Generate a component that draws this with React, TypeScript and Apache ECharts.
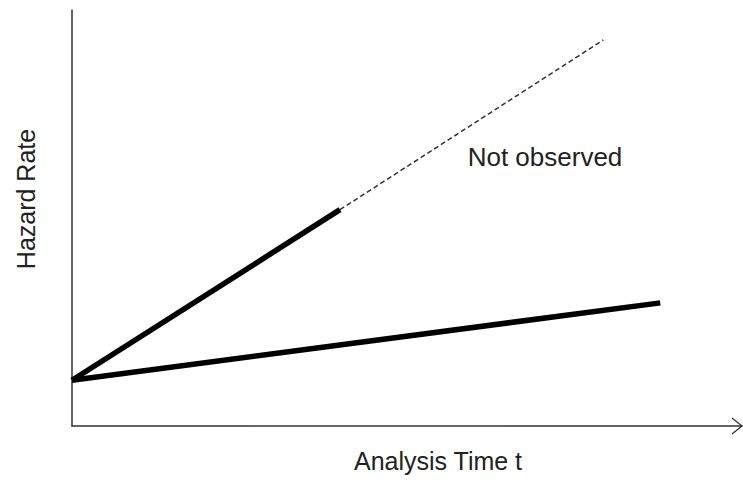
import React, { useEffect, useRef } from "react";
import * as echarts from "echarts";

// Time (x) and hazard (y) values, in arbitrary units (0–10)
const observedSteep: [number, number][] = [
  [0, 1.1],
  [4.0, 5.2],
];
const unobservedSteep: [number, number][] = [
  [4.0, 5.2],
  [7.93, 9.28],
];
const flatLine: [number, number][] = [
  [0, 1.1],
  [8.78, 2.96],
];
const xAxisName = "Analysis Time t";
const yAxisName = "Hazard Rate";
const annotation = "Not observed";

const FONT = "'Liberation Sans', Arial, sans-serif";

export default function App() {
  const ref = useRef<HTMLDivElement>(null);
  useEffect(() => {
    if (!ref.current) return;
    const chart = echarts.init(ref.current, undefined, { renderer: "svg" });
    chart.setOption({
      animation: false,
      backgroundColor: "#ffffff",
      grid: { left: 72, right: 1, top: 10, bottom: 56 },
      xAxis: {
        type: "value",
        min: 0,
        max: 10,
        name: xAxisName,
        nameLocation: "middle",
        nameGap: 22,
        nameTextStyle: {
          fontFamily: FONT,
          fontSize: 25,
          color: "#222",
          padding: [0, 0, 0, 62],
        },
        axisLine: { show: true, lineStyle: { color: "#333", width: 1.5 } },
        axisTick: { show: false },
        axisLabel: { show: false },
        splitLine: { show: false },
      },
      yAxis: {
        type: "value",
        min: 0,
        max: 10,
        name: yAxisName,
        nameLocation: "middle",
        nameRotate: 90,
        nameGap: 34,
        nameTextStyle: {
          fontFamily: FONT,
          fontSize: 25,
          color: "#222",
          padding: [0, 0, 0, 38],
        },
        axisLine: { show: true, lineStyle: { color: "#333", width: 1.5 } },
        axisTick: { show: false },
        axisLabel: { show: false },
        splitLine: { show: false },
      },
      series: [
        {
          type: "line",
          data: observedSteep,
          symbol: "none",
          lineStyle: { color: "#000", width: 5.5 },
        },
        {
          type: "line",
          data: unobservedSteep,
          symbol: "none",
          lineStyle: { color: "#333", width: 1.5, type: [5, 3] },
        },
        {
          type: "line",
          data: flatLine,
          symbol: "none",
          lineStyle: { color: "#000", width: 5.5 },
        },
      ],
      graphic: [
        {
          type: "polyline",
          shape: {
            points: [
              [732, 418],
              [742, 426],
              [732, 434],
            ],
          },
          style: { stroke: "#333", lineWidth: 1.3, fill: "none" },
        },
        {
          type: "text",
          x: 545,
          y: 157,
          style: {
            text: annotation,
            fontFamily: FONT,
            fontSize: 26,
            fill: "#222",
            align: "center",
            verticalAlign: "middle",
          },
        },
      ],
    });
    return () => chart.dispose();
  }, []);
  return (
    <div
      ref={ref}
      style={{ position: "absolute", left: 0, top: 0, width: 743, height: 482 }}
    />
  );
}
